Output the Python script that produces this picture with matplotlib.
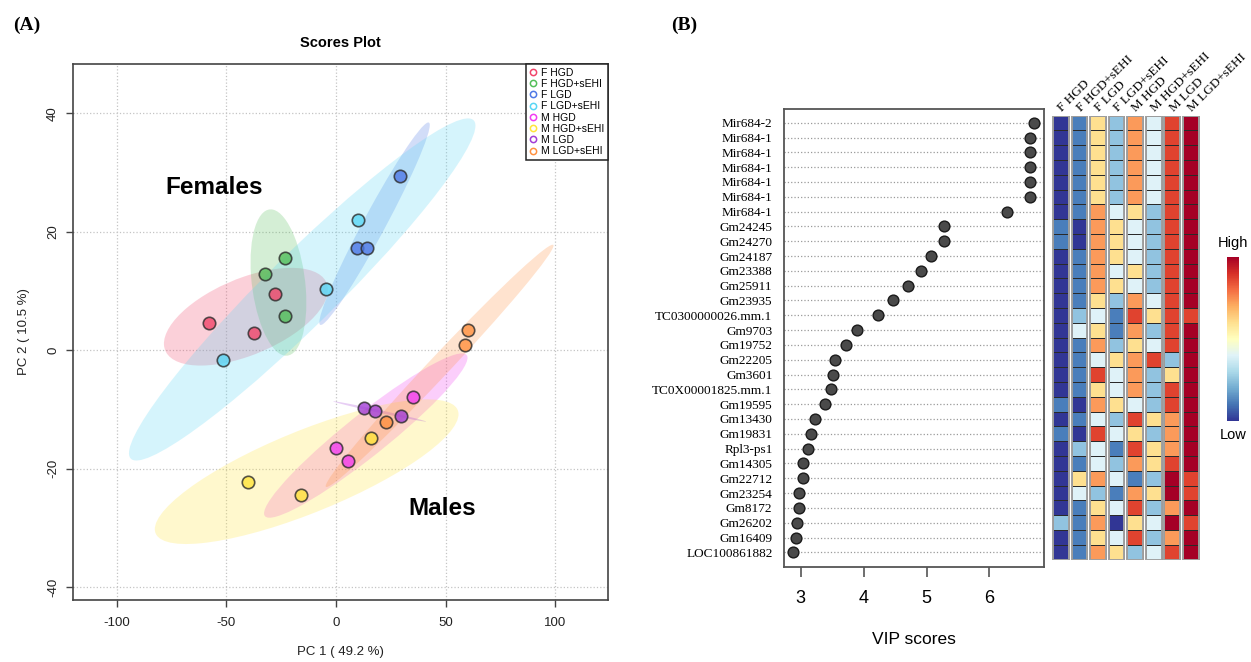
import numpy as np
import matplotlib.pyplot as plt
from matplotlib.patches import Ellipse, Rectangle
from matplotlib.lines import Line2D
from matplotlib.colors import ListedColormap, BoundaryNorm
import matplotlib as mpl

plt.rcParams["axes.unicode_minus"] = False

# ---- panel A data: PCA scores ----
group_names = ["F HGD", "F HGD+sEHI", "F LGD", "F LGD+sEHI",
               "M HGD", "M HGD+sEHI", "M LGD", "M LGD+sEHI"]
group_colors = ["#F2456A", "#55BF5A", "#4F79E6", "#59D6F5",
                "#F23DF2", "#FFE53B", "#A23ED6", "#FF9140"]

sample_group = [0, 0, 0, 1, 1, 1, 2, 2, 2, 3, 3, 3,
                4, 4, 4, 5, 5, 5, 6, 6, 6, 7, 7, 7]
pc1_scores = [-57.9, -28.0, -37.5, -23.5, -32.3, -23.1, 29.1, 9.4, 14.1, 9.9, -4.5, -51.8,
              35.2, 0.0, 5.4, 16.1, -40.3, -16.1, 12.5, 17.7, 29.4, 60.1, 58.8, 22.7]
pc2_scores = [4.6, 9.4, 2.9, 15.6, 12.8, 5.8, 29.4, 17.3, 17.3, 22.0, 10.3, -1.6,
              -8.0, -16.6, -18.7, -14.9, -22.3, -24.4, -9.7, -10.3, -11.1, 3.4, 0.8, -12.2]

# ---- panel B data: VIP scores + heatmap levels (1 = low ... 8 = high) ----
feature_names = ["Mir684-2", "Mir684-1", "Mir684-1", "Mir684-1", "Mir684-1", "Mir684-1",
                 "Mir684-1", "Gm24245", "Gm24270", "Gm24187", "Gm23388", "Gm25911",
                 "Gm23935", "TC0300000026.mm.1", "Gm9703", "Gm19752", "Gm22205", "Gm3601",
                 "TC0X00001825.mm.1", "Gm19595", "Gm13430", "Gm19831", "Rpl3-ps1",
                 "Gm14305", "Gm22712", "Gm23254", "Gm8172", "Gm26202", "Gm16409",
                 "LOC100861882"]
vip_scores = [6.70, 6.64, 6.64, 6.64, 6.64, 6.64, 6.28, 5.27, 5.27, 5.07, 4.91, 4.70,
              4.46, 4.22, 3.90, 3.72, 3.54, 3.51, 3.48, 3.38, 3.23, 3.17, 3.12, 3.03,
              3.03, 2.97, 2.97, 2.94, 2.93, 2.88]
heat_levels = [
    [1, 2, 5, 3, 6, 4, 7, 8],
    [1, 2, 5, 3, 6, 4, 7, 8],
    [1, 2, 5, 3, 6, 4, 7, 8],
    [1, 2, 5, 3, 6, 4, 7, 8],
    [1, 2, 5, 3, 6, 4, 7, 8],
    [1, 2, 5, 3, 6, 4, 7, 8],
    [1, 2, 6, 4, 5, 3, 7, 8],
    [2, 1, 6, 5, 4, 3, 7, 8],
    [2, 1, 6, 5, 4, 3, 7, 8],
    [1, 2, 6, 5, 4, 3, 7, 8],
    [1, 2, 6, 4, 5, 3, 7, 8],
    [1, 2, 6, 5, 4, 3, 7, 8],
    [1, 2, 5, 3, 6, 4, 7, 8],
    [1, 3, 4, 2, 7, 5, 7, 7],
    [1, 4, 5, 2, 6, 3, 7, 8],
    [1, 2, 6, 3, 5, 4, 7, 8],
    [1, 2, 4, 5, 6, 7, 3, 8],
    [1, 2, 7, 4, 6, 3, 5, 8],
    [1, 2, 5, 4, 6, 3, 7, 8],
    [2, 1, 6, 5, 4, 3, 7, 8],
    [1, 2, 4, 3, 7, 5, 6, 8],
    [2, 1, 7, 4, 5, 3, 6, 8],
    [1, 3, 4, 2, 7, 5, 6, 8],
    [1, 2, 4, 3, 6, 5, 7, 8],
    [1, 5, 6, 4, 2, 3, 8, 7],
    [1, 4, 3, 2, 6, 5, 8, 7],
    [1, 2, 5, 4, 7, 3, 6, 8],
    [3, 2, 6, 1, 5, 4, 8, 7],
    [1, 2, 5, 4, 7, 3, 6, 8],
    [1, 2, 6, 5, 3, 4, 7, 8],
]
level_colors = ["#313695", "#4a7ebb", "#91c3e0", "#dff2f8",
                "#fee090", "#fb9a5a", "#e0432f", "#a50026"]

W, H = 1251, 662
def box(l, t, r, b):
    return [l / W, 1 - b / H, (r - l) / W, (b - t) / H]

fig = plt.figure(figsize=(12.51, 6.62), dpi=100)
sans = "Liberation Sans"
serif = "Liberation Serif"

# ================= Panel A =================
axA = fig.add_axes(box(73, 64, 608, 600))
pc1 = np.array(pc1_scores)
pc2 = np.array(pc2_scores)
grp = np.array(sample_group)
t95 = np.sqrt(-2 * np.log(0.05))   # sqrt(qchisq(0.95, 2))

for g, col in enumerate(group_colors):
    pts = np.column_stack([pc1[grp == g], pc2[grp == g]])
    centre = pts.mean(axis=0)
    vals, vecs = np.linalg.eigh(np.cov(pts.T))
    vals = np.clip(vals, 1e-6, None)
    ang = np.degrees(np.arctan2(vecs[1, 1], vecs[0, 1]))
    axA.add_patch(Ellipse(centre, 2 * t95 * np.sqrt(vals[1]), 2 * t95 * np.sqrt(vals[0]),
                          angle=ang, facecolor=col, alpha=0.25, edgecolor="none", zorder=1))

for g, col in enumerate(group_colors):
    axA.scatter(pc1[grp == g], pc2[grp == g], s=80, color=col, alpha=0.8,
                edgecolors="#2b2b2b", linewidths=1.2, zorder=3)

axA.set_xlim(-120, 124)
axA.set_ylim(-42.2, 48.3)
axA.set_xticks([-100, -50, 0, 50, 100])
axA.set_yticks([-40, -20, 0, 20, 40])
axA.grid(True, linestyle=":", color="#c4c4c4", linewidth=0.9)
axA.set_axisbelow(True)
for s in axA.spines.values():
    s.set_color("#444444")
    s.set_linewidth(1.2)
axA.tick_params(direction="out", length=5, width=1, color="#444444", pad=7,
                labelsize=9.5, labelcolor="#222222")
axA.tick_params(axis="y", labelrotation=90, pad=5)
for lab in axA.get_xticklabels() + axA.get_yticklabels():
    lab.set_family(sans)
for lab in axA.get_yticklabels():
    lab.set_va("center")

handles = [Line2D([], [], marker="o", linestyle="none", markerfacecolor="none",
                  markeredgecolor=c, markersize=4.5, markeredgewidth=1.1) for c in group_colors]
leg = axA.legend(handles, group_names, loc="upper right", borderaxespad=0, fancybox=False,
                 edgecolor="#222222", framealpha=1, handlelength=0.7, handletextpad=0.4,
                 labelspacing=0.12, borderpad=0.35, prop={"family": sans, "size": 7.5})
leg.get_frame().set_linewidth(1.1)

axA.text(-55.8, 27.5, "Females", fontsize=17.5, fontweight="bold", family=sans,
         ha="center", va="center", zorder=4)
axA.text(48.2, -26.8, "Males", fontsize=17.5, fontweight="bold", family=sans,
         ha="center", va="center", zorder=4)

fig.text(340.5 / W, 1 - 43 / H, "Scores Plot", ha="center", va="center",
         fontsize=10.5, fontweight="bold", family=sans)
fig.text(340.5 / W, 1 - 652 / H, "PC 1 ( 49.2 %)", ha="center", va="center",
         fontsize=9.5, family=sans, color="#222222")
fig.text(23.7 / W, 1 - 332 / H, "PC 2 ( 10.5 %)", ha="center", va="center",
         rotation=90, fontsize=9.5, family=sans, color="#222222")
fig.text(27 / W, 1 - 25 / H, "(A)", ha="center", va="center",
         fontsize=14, fontweight="bold", family=serif)
fig.text(684 / W, 1 - 25 / H, "(B)", ha="center", va="center",
         fontsize=14, fontweight="bold", family=serif)

# ================= Panel B: VIP dot plot =================
axB = fig.add_axes(box(783.6, 109.3, 1043.9, 566.7))
rows = np.arange(len(feature_names))
axB.scatter(vip_scores, rows, s=60, color="#4a4a4a", edgecolors="#1a1a1a",
            linewidths=1.0, zorder=3)
axB.set_xlim(2.727, 6.865)
axB.set_ylim(29.97, -0.905)
axB.set_yticks(rows)
axB.set_yticklabels(feature_names, family=serif, fontsize=9.5)
axB.set_xticks([3, 4, 5, 6])
axB.grid(True, axis="y", linestyle=":", color="#9a9a9a", linewidth=0.9)
axB.set_axisbelow(True)
for s in axB.spines.values():
    s.set_color("#555555")
    s.set_linewidth(1.3)
axB.tick_params(axis="y", length=0, pad=8)
axB.tick_params(axis="x", direction="out", length=7, width=1.2, color="#555555",
                pad=10, labelsize=13)
for lab in axB.get_xticklabels():
    lab.set_family(sans)
fig.text(913.7 / W, 1 - 639 / H, "VIP scores", ha="center", va="center",
         fontsize=12.5, family=sans)

# ================= Panel B: heatmap =================
axH = fig.add_axes(box(1051.6, 115.5, 1200.2, 559.5))
heat = np.array(heat_levels)
cmap8 = ListedColormap(level_colors)
norm8 = BoundaryNorm(np.arange(0.5, 9.5, 1), cmap8.N)
gap = 0.0775
for j in range(heat.shape[1]):
    axH.pcolormesh([j + gap, j + 1 - gap], np.arange(heat.shape[0] + 1), heat[:, j:j + 1],
                   cmap=cmap8, norm=norm8, edgecolors="#2a2a2a", linewidth=0.5)
    axH.add_patch(Rectangle((j + gap, 0), 1 - 2 * gap, heat.shape[0], fill=False,
                            edgecolor="#a0a0a0", linewidth=1.4, zorder=3))
    axH.text(j + 0.45, -0.35, group_names[j], rotation=45, rotation_mode="anchor",
             ha="left", va="center", family=serif, fontsize=9.5)
axH.set_xlim(0, heat.shape[1])
axH.set_ylim(heat.shape[0], 0)
axH.axis("off")

# colour key
cax = fig.add_axes(box(1227, 257, 1239, 421))
cb = mpl.colorbar.ColorbarBase(cax, cmap=plt.get_cmap("RdYlBu_r"),
                               norm=mpl.colors.Normalize(0, 1), orientation="vertical")
cb.set_ticks([])
cb.outline.set_visible(False)
fig.text(1233 / W, 1 - 243 / H, "High", ha="center", va="center", fontsize=10.5, family=sans)
fig.text(1233 / W, 1 - 435 / H, "Low", ha="center", va="center", fontsize=10.5, family=sans)

fig.savefig("out.png", dpi=100)
